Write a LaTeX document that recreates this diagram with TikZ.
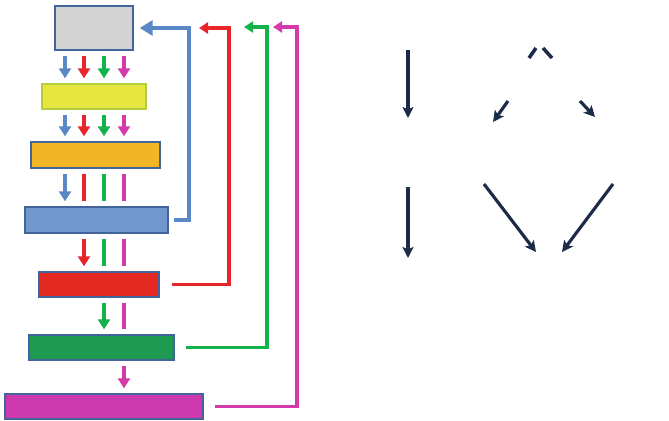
\documentclass[tikz,border=0pt]{standalone}
\usepackage{xcolor}
\usepackage{tikz}
\usetikzlibrary{arrows.meta}
\definecolor{boxline}{HTML}{41659A}
\definecolor{cGray}{HTML}{D3D3D3}
\definecolor{cYellow}{HTML}{E6E641}
\definecolor{cYellowLine}{HTML}{B5CC3C}
\definecolor{cOrange}{HTML}{F0B626}
\definecolor{cBlue}{HTML}{7197CC}
\definecolor{cRed}{HTML}{E52A24}
\definecolor{cGreen}{HTML}{1E9A52}
\definecolor{cMagenta}{HTML}{CC38AE}
\definecolor{lBlue}{HTML}{5A87C6}
\definecolor{lRed}{HTML}{E8252B}
\definecolor{lGreen}{HTML}{13B24B}
\definecolor{lMagenta}{HTML}{D53AAB}
\definecolor{navy}{HTML}{1C2B4A}
\newcommand{\stagebox}[5]{
\node (#1) [stage, #2, minimum width=#3cm, minimum height=#4cm] at #5 {};}
\tikzstyle{stage}=[rectangle, draw=boxline, line width=0.8pt, inner sep=0pt]
\tikzstyle{flowLine}=[line width=1.8pt, shorten <=0.1cm, shorten >=0.1cm]
\tikzstyle{flowArrow}=[flowLine, -{Triangle[width=0.24cm,length=0.2cm]}]
\tikzstyle{backLine}=[line width=1.8pt, -{Triangle[width=0.22cm,length=0.18cm]}]
\tikzstyle{darkArrow}=[navy, line width=1.8pt, -{Stealth[width=0.22cm,length=0.22cm,inset=0.05cm]}]
\begin{document}
\begin{tikzpicture}[x=0.02cm, y=-0.02cm]
\useasboundingbox (0,0) rectangle (669,420);

% stages
\stagebox{grayBox}{fill=cGray}{1.56}{0.88}{(94,28)}
\stagebox{yellowBox}{fill=cYellow, draw=cYellowLine}{2.08}{0.5}{(94,96.5)}
\stagebox{orangeBox}{fill=cOrange}{2.58}{0.52}{(95.5,155)}
\stagebox{blueBox}{fill=cBlue}{2.86}{0.52}{(96.5,220)}
\stagebox{redBox}{fill=cRed}{2.4}{0.5}{(99,284.5)}
\stagebox{greenBox}{fill=cGreen}{2.9}{0.5}{(101.5,347.5)}
\stagebox{magentaBox}{fill=cMagenta}{3.96}{0.5}{(104,406.5)}

\coordinate (colBlue) at (65,0);
\coordinate (colRed) at (84,0);
\coordinate (colGreen) at (104,0);
\coordinate (colMagenta) at (124,0);

% downward flow
\foreach \c in {Blue,Red,Green,Magenta}{
  \draw[flowArrow, l\c] (grayBox.south -| col\c) -- (yellowBox.north -| col\c);
  \draw[flowArrow, l\c] (yellowBox.south -| col\c) -- (orangeBox.north -| col\c);
}
\draw[flowArrow, lBlue] (orangeBox.south -| colBlue) -- (blueBox.north -| colBlue);
\foreach \c in {Red,Green,Magenta}
  \draw[flowLine, l\c] (orangeBox.south -| col\c) -- (blueBox.north -| col\c);
\draw[flowArrow, lRed] (blueBox.south -| colRed) -- (redBox.north -| colRed);
\foreach \c in {Green,Magenta}
  \draw[flowLine, l\c] (blueBox.south -| col\c) -- (redBox.north -| col\c);
\draw[flowArrow, lGreen] (redBox.south -| colGreen) -- (greenBox.north -| colGreen);
\draw[flowLine, lMagenta] (redBox.south -| colMagenta) -- (greenBox.north -| colMagenta);
\draw[flowArrow, lMagenta] (greenBox.south -| colMagenta) -- (magentaBox.north -| colMagenta);

% feedback
\coordinate (upBlue) at (189,28);
\coordinate (upRed) at (229,28);
\coordinate (tipRed) at (199,28);
\coordinate (upGreen) at (267,27);
\coordinate (tipGreen) at (244,27);
\coordinate (upMagenta) at (297,27);
\coordinate (tipMagenta) at (273,27);
\draw[backLine, lBlue, shorten <=0.1cm, shorten >=0.12cm, -{Triangle[width=0.3cm,length=0.26cm]}] (blueBox.east) -| (upBlue) -- (grayBox.east);
\draw[backLine, lRed, shorten <=0.24cm] (redBox.east) -| (upRed) -- (tipRed);
\draw[backLine, lGreen, shorten <=0.22cm] (greenBox.east) -| (upGreen) -- (tipGreen);
\draw[backLine, lMagenta, shorten <=0.22cm] (magentaBox.east) -| (upMagenta) -- (tipMagenta);

% right arrows
\coordinate (vA) at (408,50);
\coordinate (vB) at (408,118);
\coordinate (vC) at (408,187);
\coordinate (vD) at (408,258);
\coordinate (topA) at (536,48);
\coordinate (topB) at (529,58);
\coordinate (topC) at (543,48);
\coordinate (topD) at (552,58);
\coordinate (midA) at (508,101);
\coordinate (midB) at (493,122);
\coordinate (midC) at (580,101);
\coordinate (midD) at (595,117);
\coordinate (lowA) at (484,184);
\coordinate (lowB) at (536,252);
\coordinate (lowC) at (613,184);
\coordinate (lowD) at (562,252);
\draw[darkArrow, line width=2.4pt] (vA) -- (vB);
\draw[darkArrow, line width=2.4pt] (vC) -- (vD);
\draw[navy, line width=2pt] (topA) -- (topB);
\draw[navy, line width=2pt] (topC) -- (topD);
\draw[darkArrow] (midA) -- (midB);
\draw[darkArrow] (midC) -- (midD);
\draw[darkArrow] (lowA) -- (lowB);
\draw[darkArrow] (lowC) -- (lowD);

\end{tikzpicture}
\end{document}
